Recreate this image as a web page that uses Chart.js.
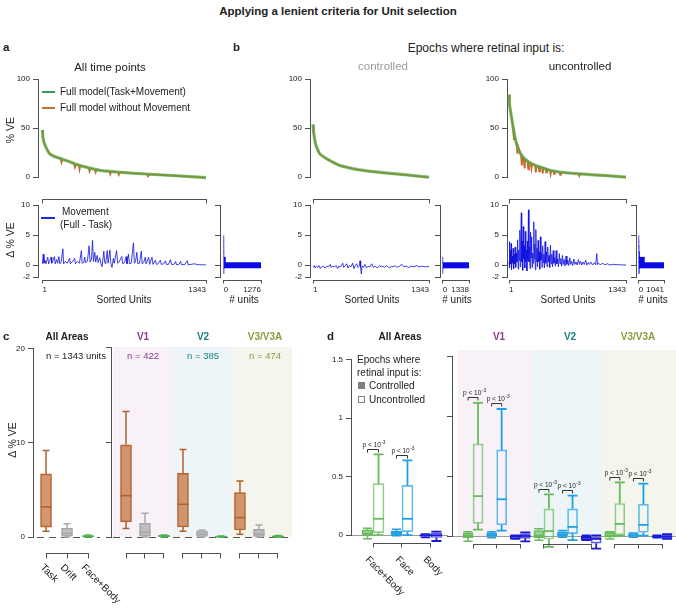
<!DOCTYPE html>
<html><head><meta charset="utf-8"><title>Applying a lenient criteria for Unit selection</title>
<script src="https://cdn.jsdelivr.net/npm/chart.js@4.4.1/dist/chart.umd.min.js"></script>
<style>
html,body{margin:0;padding:0;background:#fff;}
#fig{position:relative;width:676px;height:608px;overflow:hidden;font-family:'Liberation Sans',Arial,Helvetica,sans-serif;color:#222;}
#fig canvas{position:absolute;}
.t{position:absolute;white-space:nowrap;line-height:1;}
.ln{position:absolute;box-sizing:border-box;}
</style></head><body><div id="fig"></div>
<script>
// ================= DATA =================
// Panel a/b top: sorted % VE (x = sorted unit index)
const unitsA = [1,5,15,32,59,100,150,197,260,335,473,620,747,1026,1343];
const fullA  = [48,41,35,30,24,21,19,17,14,11,7,5.2,4,2,-0.5];
const unitsNoMoveA = [1,5,15,32,59,100,150,158,166,197,260,268,276,300,306,312,335,380,388,396,430,438,446,473,550,558,566,620,628,636,747,860,868,876,1026,1343];
const noMoveA      = [48,41,35,30,24,21,19,15,18,17,14,10,13,12.5,8,12,11,9.7,6,9.2,8.2,5,7.8,7,6,3,5.8,5.2,2.5,5,4,3.1,1,3,2,-0.5];

const unitsC  = [1,9,33,79,157,313,508,703,898,1093,1343];
const fullC   = [54,45,33,24,19,12,8,5.6,3.9,2.3,0];
const noMoveC = [53,44,32.5,23.5,18.6,11.8,7.8,5.4,3.7,2.1,-0.2];

const unitsU = [1,10,32,70,127,203,280,356,450,548,640,739,900,1121,1343];
const fullU  = [84,72,60,40,25,17,13,10.5,7.5,5.6,4.6,3.9,2.8,1.6,0];
const unitsNoMoveU = [1,10,32,50,58,64,70,90,98,105,127,140,148,155,170,180,187,203,215,222,230,250,258,265,280,300,308,316,340,348,356,380,388,396,420,428,436,450,470,478,486,510,518,526,548,580,588,596,640,700,739,800,808,816,900,1000,1121,1343];
const noMoveU      = [84,72,60,48,38,44,40,32,24,31,25,22,12,21,19,9,18,17,16,8,15.5,14,9,13.5,13,12,5,11.5,10.8,6,10.5,9.8,4,9.5,8.5,5,8.2,7.5,7,3,6.8,6.3,3.5,6,5.6,5.2,2.5,5.1,4.6,4.1,3.9,3.4,1.5,3.4,2.8,2.2,1.6,0];

// Panel a/b bottom: Movement (Full - Task), [unit, delta % VE]
const diffA = [[1,0.2],[8,1.8],[14,0.3],[22,0.8],[30,0.2],[45,1.3],[52,0.2],[60,0.6],[72,1.3],[78,0.3],[88,0.7],[100,1.4],[106,0.2],[118,0.9],[126,0.3],[136,1.4],[144,0.2],[155,0.5],[169,2.7],[175,0.2],[190,0.6],[205,0.3],[224,1.1],[230,0.2],[245,0.5],[266,1.1],[272,0.2],[290,0.6],[305,0.3],[321,2.4],[327,0.3],[340,0.4],[348,1.3],[356,0.4],[370,0.6],[384,3.2],[392,0.5],[404,1.0],[412,4.1],[420,0.6],[431,2.1],[438,0.5],[450,1.6],[458,0.4],[472,1.2],[480,0.3],[490,-0.3],[505,2.3],[512,0.4],[520,0.2],[533,2.4],[540,0.3],[555,2.5],[562,0.3],[572,-0.4],[583,1.1],[590,0.3],[610,2.4],[618,0.3],[630,0.5],[652,1.4],[660,0.2],[675,0.4],[688,1.4],[695,0.2],[707,1.8],[715,0.2],[730,0.3],[748,3.7],[755,0.3],[765,0.6],[776,2.1],[784,0.2],[798,0.3],[812,2.3],[820,0.2],[832,0.4],[845,1.3],[852,0.2],[873,1.3],[880,0.1],[900,1.3],[908,0.1],[928,0.8],[935,0.1],[950,0.2],[969,0.8],[976,0.1],[995,0.2],[1011,0.7],[1018,0.1],[1035,0.1],[1052,0.9],[1060,0.1],[1080,0.1],[1094,0.6],[1100,0.05],[1120,0.1],[1135,0.6],[1142,0.05],[1170,0.1],[1190,0.7],[1196,0.05],[1220,0.1],[1245,0.2],[1280,0.05],[1343,0.02]];
const diffC = [[1,-0.3],[15,-0.1],[25,-0.5],[40,-0.2],[55,-0.4],[70,-0.1],[85,-0.6],[100,-0.3],[120,-0.2],[140,-0.5],[160,-0.2],[180,-0.3],[200,0.1],[210,-0.4],[230,-0.2],[250,-0.3],[270,-0.1],[285,-0.6],[300,-0.2],[320,-0.3],[345,0.3],[355,-0.4],[370,-0.2],[390,0.2],[405,-0.5],[420,-0.1],[440,-0.3],[460,0.3],[475,-0.6],[490,-0.1],[505,0.2],[520,-0.4],[535,-0.2],[545,0.7],[552,-0.4],[560,-1.5],[568,-0.2],[585,-0.4],[600,0.1],[620,-0.5],[640,-0.2],[660,-0.3],[680,0.2],[700,-0.4],[720,-0.2],[745,-0.5],[770,-0.1],[790,-0.3],[810,-0.2],[830,-0.4],[850,-0.1],[870,-0.3],[890,-0.5],[910,-0.2],[930,-0.3],[950,-0.1],[975,-0.4],[1000,-0.2],[1030,0.1],[1050,-0.3],[1080,-0.2],[1110,-0.4],[1140,-0.2],[1170,-0.3],[1200,-0.1],[1230,-0.3],[1260,-0.2],[1300,-0.3],[1343,-0.25]];
const diffU = [[1,0.5],[5,3.9],[10,-0.5],[15,2.5],[20,0.2],[25,3.6],[30,-0.8],[36,1.5],[42,0.3],[48,2.8],[54,-0.6],[60,1.8],[66,0.2],[72,3.0],[78,-0.4],[85,2.0],[92,0.5],[100,4.2],[106,-0.7],[112,2.5],[118,0.8],[125,5.8],[130,-0.3],[136,3.5],[142,8.7],[147,0.5],[153,4.0],[158,-0.9],[164,6.4],[170,1.0],[176,3.2],[182,-0.5],[188,5.6],[194,0.6],[200,2.5],[206,-1.0],[212,4.0],[218,0.8],[224,9.2],[230,0.5],[236,3.0],[242,-0.6],[248,5.5],[254,1.2],[260,4.7],[266,-0.4],[272,2.0],[278,0.3],[285,7.2],[291,1.0],[297,3.5],[303,-0.8],[309,5.9],[315,0.6],[322,2.8],[328,-0.3],[335,4.1],[341,0.5],[348,2.2],[354,-0.7],[361,4.7],[367,0.8],[374,2.0],[380,-0.4],[387,3.2],[394,0.4],[401,1.8],[408,-0.5],[415,3.9],[422,0.3],[430,2.2],[437,-0.3],[445,3.0],[452,0.5],[460,1.6],[468,-0.4],[476,3.3],[484,0.2],[492,1.8],[500,-0.3],[508,2.4],[516,0.3],[525,1.2],[533,-0.2],[542,2.4],[550,0.2],[560,1.0],[568,-0.3],[578,1.9],[586,0.2],[596,1.1],[605,-0.2],[615,1.6],[624,0.1],[634,0.9],[644,-0.2],[655,1.5],[665,0.1],[676,0.8],[686,-0.1],[698,1.2],[708,0.1],[720,0.6],[732,-0.1],[745,1.0],[757,0.1],[770,0.5],[783,0.0],[797,0.9],[810,0.1],[823,0.6],[836,0.0],[850,0.5],[865,0.1],[880,0.8],[895,0.0],[910,0.4],[925,0.1],[940,0.5],[960,0.0],[980,0.4],[995,0.05],[1008,1.9],[1016,0.05],[1030,0.3],[1050,0.0],[1070,0.3],[1100,0.05],[1130,0.2],[1160,0.0],[1200,0.1],[1250,0.05],[1300,0.02],[1343,0.0]];

// Histograms of delta % VE (bin centres, counts)
const histBins = [-0.95,-0.05,0.85,1.75,2.65,3.55,4.45,5.35,6.25,7.15,8.05];
const histA = [5,1276,55,4,2,1,1,0,0,0,0];
const histC = [3,1338,2,0,0,0,0,0,0,0,0];
const histU = [20,1041,230,30,12,6,3,0,0,0,0];
const histMaxA = 1276, histMaxC = 1338, histMaxU = 1041;

// Panel c: box stats [min, q1, median, q3, max] for Task, Drift, Face+Body
const catsC = ['Task','Drift','Face+Body'];
const cAll = [[0.6,1.05,3.2,6.7,9.2],[0,0.1,0.4,0.95,1.4],[0,0.02,0.06,0.15,0.2]];
const cV1  = [[0.9,1.6,4.35,9.7,13.2],[0,0.1,0.5,1.45,2.5],[0,0.03,0.08,0.18,0.22]];
const cV2  = [[0.6,1.05,3.44,6.7,9.2],[0,0.05,0.3,0.65,0.75],[0,0.01,0.04,0.08,0.1]];
const cV3  = [[0.3,0.74,2.04,4.67,5.9],[0,0.05,0.3,0.8,1.26],[0,0.02,0.05,0.12,0.15]];
const areaNames = ['V1','V2','V3/V3A'];
const areaN = [422,385,474];
const totalN = 1343;

// Panel d: box stats [min, q1, median, q3, max] for Face+Body, Face, Body
const catsD = ['Face+Body','Face','Body'];
const dAllCtrl = [[-0.03,0,0.015,0.045,0.06],[-0.005,0.005,0.02,0.035,0.05],[-0.02,-0.01,0,0.005,0.01]];
const dAllUnc  = [[0,0.022,0.14,0.44,0.69],[0,0.03,0.14,0.425,0.64],[-0.05,-0.02,0,0.02,0.03]];
const dV1Ctrl  = [[-0.04,-0.01,0.01,0.03,0.04],[-0.01,0,0.01,0.03,0.04],[-0.02,-0.02,0,0.01,0.01]];
const dV1Unc   = [[0.058,0.11,0.336,0.77,1.11],[0.05,0.097,0.31,0.72,1.06],[-0.04,-0.015,0.005,0.025,0.035]];
const dV2Ctrl  = [[-0.03,-0.01,0.01,0.05,0.064],[-0.005,0.005,0.02,0.04,0.05],[-0.03,-0.03,-0.01,0.005,0.01]];
const dV2Unc   = [[-0.086,-0.02,0.045,0.23,0.35],[-0.03,0.025,0.08,0.23,0.34],[-0.1,-0.055,-0.02,0,0.01]];
const dV3Ctrl  = [[-0.02,-0.005,0.01,0.035,0.04],[-0.005,0,0.01,0.025,0.03],[-0.01,-0.005,0,0.005,0.01]];
const dV3Unc   = [[0.005,0.014,0.105,0.275,0.45],[0.008,0.036,0.097,0.27,0.44],[-0.02,-0.015,0,0.015,0.02]];
const dSig = [true,true,false]; // p < 10^-3 for Face+Body and Face
const pText = ['p < 10','-3'];

// ================= STYLE / HELPERS =================
const fig = document.getElementById('fig');
const AX = '#505050';
const GREENL = 'rgba(86,170,72,0.72)', ORANGE = '#c8682a', BLUE = 'rgba(18,18,225,0.9)', HBLUE = '#0a0ae6';
const cFill = ['rgba(196,112,58,0.72)','rgba(170,170,170,0.72)','rgba(90,190,90,0.9)'];
const cLine = ['#b2602c','#a8a8a8','#4fb04f'];
const dCol = ['#66bb5a','#1ea0e6','#1a1ad6'];
const areaCol = ['#8b3b8f','#1d7f80','#8d9b3d'];
const bandCol = ['#f8f1f8','#eef5f8','#f4f5ed'];
function rgba(hex,a){const n=parseInt(hex.slice(1),16);return `rgba(${n>>16},${(n>>8)&255},${n&255},${a})`;}
const FONT = "'Liberation Sans', Arial, Helvetica, sans-serif";
Chart.defaults.font.family = FONT;
Chart.defaults.font.size = 8;
Chart.defaults.color = '#222';

function T(s,x,y,o={}){
  const d=document.createElement('div'); d.className='t'; d.textContent=s;
  const al=o.al||'c'; const tx=al==='l'?'0%':al==='r'?'-100%':'-50%';
  d.style.left=x+'px'; d.style.top=y+'px'; d.style.fontSize=(o.fs||10)+'px';
  if(o.b) d.style.fontWeight='bold'; if(o.c) d.style.color=o.c;
  let tr=`translate(${tx},-50%)`;
  if(o.rot){ tr+=` rotate(${o.rot}deg)`; d.style.transformOrigin = al==='l'?'0 50%':'50% 50%'; }
  d.style.transform=tr; fig.appendChild(d);
}
function R(x,y,w,h,bg,border){
  const d=document.createElement('div'); d.className='ln';
  Object.assign(d.style,{left:x+'px',top:y+'px',width:w+'px',height:h+'px',background:bg||'transparent'});
  if(border) d.style.border=border; fig.appendChild(d);
}
function mk(area,pad,config){
  const c=document.createElement('canvas');
  const w=Math.round(area.r-area.l+pad.l+pad.r), h=Math.round(area.b-area.t+pad.t+pad.b);
  c.width=w; c.height=h;
  Object.assign(c.style,{left:(area.l-pad.l)+'px',top:(area.t-pad.t)+'px',width:w+'px',height:h+'px'});
  fig.appendChild(c);
  const o=config.options, xs=o.scales.x, ys=o.scales.y;
  const yShown=ys.display!==false, xShown=xs.display!==false;
  if(yShown) ys.afterFit=s=>{s.width=pad.l;};
  if(xShown) xs.afterFit=s=>{s.height=pad.b;};
  o.layout={padding:{top:pad.t,right:pad.r,left:yShown?0:pad.l,bottom:xShown?0:pad.b}};
  o.responsive=false; o.animation=false; o.devicePixelRatio=1; o.events=[];
  o.plugins={legend:{display:false},tooltip:{enabled:false}};
  return new Chart(c,config);
}
function yScale(min,max,vals,labels=true){
  return {type:'linear',min,max,bounds:'data',position:'left',offset:false,
    afterBuildTicks:s=>{s.ticks=vals.map(v=>({value:v}));},
    ticks:{display:labels,padding:3,autoSkip:false,callback:v=>String(v),color:'#222',font:{size:8}},
    grid:{display:true,offset:false,drawOnChartArea:false,drawTicks:true,tickLength:5,color:AX,lineWidth:1},
    border:{display:false}};
}
function xScale(min,max,vals){
  if(!vals) return {type:'linear',min,max,bounds:'data',display:false,offset:false,grid:{offset:false}};
  return {type:'linear',min,max,bounds:'data',position:'bottom',offset:false,
    afterBuildTicks:s=>{s.ticks=vals.map(v=>({value:v}));},
    ticks:{padding:8,align:'inner',maxRotation:0,minRotation:0,autoSkip:false,callback:v=>String(v),color:'#222',font:{size:8}},
    grid:{display:false,drawTicks:false,offset:false},border:{display:false}};
}
const al=p=>Math.round(p-0.5)+0.5;
function yAx(c,from,to){
  const ctx=c.ctx,s=c.scales.y,x=Math.round(c.chartArea.left)+0.5;
  ctx.save();ctx.strokeStyle=AX;ctx.lineWidth=1;ctx.setLineDash([]);
  ctx.beginPath();ctx.moveTo(x,al(s.getPixelForValue(to))-0.5);ctx.lineTo(x,al(s.getPixelForValue(from))+0.5);ctx.stroke();ctx.restore();
}
function xBr(c,from,to,yPix,ticks,len){
  const ctx=c.ctx,s=c.scales.x,y=al(yPix);
  ctx.save();ctx.strokeStyle=AX;ctx.lineWidth=1;ctx.setLineDash([]);
  ctx.beginPath();
  ctx.moveTo(al(s.getPixelForValue(from))-0.5,y);ctx.lineTo(al(s.getPixelForValue(to))+0.5,y);
  ticks.forEach(v=>{const x=al(s.getPixelForValue(v));ctx.moveTo(x,y);ctx.lineTo(x,y+len);});
  ctx.stroke();ctx.restore();
}
function bands(c,ranges,cols){
  const ctx=c.ctx,sx=c.scales.x,sy=c.scales.y;
  ranges.forEach((r,i)=>{const x1=sx.getPixelForValue(r[0]),x2=sx.getPixelForValue(r[1]);
    ctx.fillStyle=cols[i];ctx.fillRect(x1,c.chartArea.top,x2-x1,sy.getPixelForValue(0)-c.chartArea.top);});
}
function zeroLine(c,dash,col,x0off){
  const ctx=c.ctx,y=al(c.scales.y.getPixelForValue(0));
  ctx.save();ctx.strokeStyle=col;ctx.lineWidth=1;ctx.setLineDash(dash);
  ctx.beginPath();ctx.moveTo(c.chartArea.left+(x0off||0),y);ctx.lineTo(c.chartArea.right,y);ctx.stroke();ctx.restore();
}
function drawBoxes(c,di,stats,cols,capW,lw,medLw){
  const meta=c.getDatasetMeta(di),sy=c.scales.y,ctx=c.ctx;
  ctx.save();ctx.setLineDash([]);ctx.lineCap='butt';
  meta.data.forEach((el,j)=>{
    const [mn,q1,md,q3,mx]=stats[j];const x=el.x,w=el.width;
    const P=v=>sy.getPixelForValue(v);
    ctx.strokeStyle=cols[j];ctx.lineWidth=lw;
    ctx.beginPath();
    ctx.moveTo(x,P(q3));ctx.lineTo(x,P(mx));ctx.moveTo(x,P(q1));ctx.lineTo(x,P(mn));
    ctx.moveTo(x-capW/2,P(mx));ctx.lineTo(x+capW/2,P(mx));
    ctx.moveTo(x-capW/2,P(mn));ctx.lineTo(x+capW/2,P(mn));
    ctx.stroke();
    ctx.lineWidth=medLw;ctx.beginPath();ctx.moveTo(x-w/2,P(md));ctx.lineTo(x+w/2,P(md));ctx.stroke();
  });
  ctx.restore();
}
function drawP(c,ctrl,unc,sig){
  const m0=c.getDatasetMeta(0),m1=c.getDatasetMeta(1),sy=c.scales.y,ctx=c.ctx;
  ctx.save();ctx.setLineDash([]);ctx.strokeStyle='#333';ctx.fillStyle='#222';ctx.lineWidth=1;
  m0.data.forEach((e0,j)=>{
    if(!sig[j%sig.length]) return;
    const e1=m1.data[j];
    const yb=al(Math.min(sy.getPixelForValue(ctrl[j][4]),sy.getPixelForValue(unc[j][4]))-5);
    ctx.beginPath();ctx.moveTo(e0.x,yb+3);ctx.lineTo(e0.x,yb);ctx.lineTo(e1.x,yb);ctx.lineTo(e1.x,yb+3);ctx.stroke();
    ctx.font=`6.5px ${FONT}`;ctx.textBaseline='alphabetic';ctx.textAlign='left';
    const tx=e0.x-5;ctx.fillText(pText[0],tx,yb-3);
    const w=ctx.measureText(pText[0]).width;
    ctx.font=`4.8px ${FONT}`;ctx.fillText(pText[1],tx+w+0.5,yb-6);
  });
  ctx.restore();
}
const pts=(xs,ys)=>xs.map((u,i)=>({x:u,y:ys[i]}));
const pairPts=arr=>arr.map(p=>({x:p[0],y:p[1]}));

// ================= PANEL a / b : TOP CURVES =================
function topChart(area,xmin,units,full,unitsNM,nm){
  return mk(area,{l:32,t:8,r:4,b:4},{
    type:'line',
    data:{datasets:[
      {label:'Full model(Task+Movement)',data:pts(units,full),borderColor:GREENL,borderWidth:3.2,pointRadius:0,tension:0.2,clip:6},
      {label:'Full model without Movement',data:pts(unitsNM,nm),borderColor:ORANGE,borderWidth:1.8,pointRadius:0,tension:0,clip:6}]},
    options:{scales:{x:xScale(xmin,1343,null),y:yScale(0,100,[0,50,100])}},
    plugins:[{id:'deco',beforeDatasetsDraw:c=>yAx(c,0,100)}]
  });
}
topChart({l:38,t:79,r:206,b:181},-35,unitsA,fullA,unitsNoMoveA,noMoveA);
topChart({l:310,t:79,r:429,b:181},-34,unitsC,fullC,unitsC,noMoveC);
topChart({l:507,t:79,r:626,b:181},-22,unitsU,fullU,unitsNoMoveU,noMoveU);

// ================= PANEL a / b : BOTTOM DIFF =================
function diffChart(area,xmin,diff){
  return mk(area,{l:32,t:10,r:8,b:26},{
    type:'line',
    data:{datasets:[{label:'Movement (Full - Task)',data:pairPts(diff),borderColor:BLUE,borderWidth:0.9,pointRadius:0,tension:0,clip:3}]},
    options:{scales:{x:xScale(xmin,1343,[1,1343]),y:yScale(-2,10,[-2,0,5,10])}},
    plugins:[{id:'deco',beforeDatasetsDraw:c=>{
      yAx(c,-2,10);
      xBr(c,1,1343,c.chartArea.bottom+3,[1,1343],3);
      xBr(c,1,1343,c.chartArea.top-6,[1,1343],4);
    }}]
  });
}
diffChart({l:38,t:205,r:206,b:277},-35,diffA);
diffChart({l:310,t:205,r:429,b:277},-34,diffC);
diffChart({l:507,t:205,r:626,b:277},-22,diffU);

function histChart(area,xmin,counts,maxC){
  return mk(area,{l:8,t:10,r:6,b:26},{
    type:'bar',
    data:{datasets:[{label:'# units',data:histBins.map((b,i)=>({y:b,x:counts[i]})).filter(d=>d.x>0),backgroundColor:HBLUE,borderWidth:0,barPercentage:1,categoryPercentage:1}]},
    options:{indexAxis:'y',scales:{x:xScale(xmin,maxC,[0,maxC]),y:yScale(-2,10,[-2,0,5,10],false)}},
    plugins:[{id:'deco',beforeDatasetsDraw:c=>{
      yAx(c,-2,10);
      xBr(c,0,maxC,c.chartArea.bottom+3,[0,maxC],3);
    }}]
  });
}
histChart({l:220,t:205,r:263,b:277},-131,histA,histMaxA);
histChart({l:440,t:205,r:471,b:277},-143,histC,histMaxC);
histChart({l:636,t:205,r:666,b:277},-116,histU,histMaxU);

// ================= PANEL c =================
function boxDataset(stats,fill,line,thick){
  return {data:stats.map((s,i)=>({x:i,y:[s[1],s[3]]})),backgroundColor:fill,borderColor:line,borderWidth:1,borderSkipped:false,barThickness:thick};
}
mk({l:33,t:347,r:100,b:537},{l:33,t:6,r:2,b:26},{
  type:'bar',
  data:{labels:catsC,datasets:[boxDataset(cAll,cFill,cLine,11)]},
  options:{scales:{x:xScale(-0.62,2.57,null),y:yScale(0,20,[0,10,20])}},
  plugins:[{id:'deco',
    beforeDatasetsDraw:c=>{yAx(c,0,20);zeroLine(c,[7,5],'#555',4);},
    afterDatasetsDraw:c=>{drawBoxes(c,0,cAll,cLine,7,1.5,1.5);xBr(c,0,2,c.scales.y.getPixelForValue(0)+16,[0,1,2],5);}}]
});
const cRightStats=[...cV1,...cV2,...cV3];
const rep3=a=>[...a,...a,...a];
mk({l:111,t:347,r:292,b:537},{l:8,t:6,r:2,b:26},{
  type:'bar',
  data:{datasets:[boxDataset(cRightStats,rep3(cFill),rep3(cLine),11)]},
  options:{scales:{x:xScale(-0.79,8.74,null),y:yScale(0,20,[0,10,20],false)}},
  plugins:[{id:'deco',
    beforeDatasetsDraw:c=>{bands(c,[[-0.68,2.46],[2.46,5.53],[5.53,8.74]],bandCol);yAx(c,0,20);zeroLine(c,[7,5],'#555',2);},
    afterDatasetsDraw:c=>{drawBoxes(c,0,cRightStats,rep3(cLine),7,1.5,1.5);
      const y=c.scales.y.getPixelForValue(0)+16;
      [[0,1,2],[3,4,5],[6,7,8]].forEach(g=>xBr(c,g[0],g[2],y,g,5));}}]
});

// ================= PANEL d =================
function dSets(ctrl,unc,cols,thick){
  return [
    {label:'Controlled',data:ctrl.map((s,i)=>({x:i,y:[s[1],s[3]]})),backgroundColor:cols.map(c=>rgba(c,0.6)),borderColor:cols,borderWidth:1,borderSkipped:false,barThickness:thick},
    {label:'Uncontrolled',data:unc.map((s,i)=>({x:i,y:[s[1],s[3]]})),backgroundColor:'rgba(255,255,255,0)',borderColor:cols.map(c=>rgba(c,0.7)),borderWidth:1,borderSkipped:false,barThickness:thick}
  ];
}
mk({l:351,t:350,r:448,b:551},{l:25,t:4,r:2,b:6},{
  type:'bar',
  data:{datasets:dSets(dAllCtrl,dAllUnc,dCol,11)},
  options:{scales:{x:xScale(-0.76,2.59,null),y:yScale(-0.12,1.55,[0,0.5,1,1.5])}},
  plugins:[{id:'deco',
    beforeDatasetsDraw:c=>{zeroLine(c,[],'#9a9a9a',0);yAx(c,0,1.5);},
    afterDatasetsDraw:c=>{drawBoxes(c,0,dAllCtrl,dCol,9,1.5,1.5);drawBoxes(c,1,dAllUnc,dCol,10,1.8,1.8);
      drawP(c,dAllCtrl,dAllUnc,dSig);
      xBr(c,0,2,c.scales.y.getPixelForValue(0)+8,[0,1,2],4);}}]
});
const dRCtrl=[...dV1Ctrl,...dV2Ctrl,...dV3Ctrl], dRUnc=[...dV1Unc,...dV2Unc,...dV3Unc], dRCol=rep3(dCol);
mk({l:452,t:350,r:676,b:551},{l:8,t:4,r:0,b:6},{
  type:'bar',
  data:{datasets:dSets(dRCtrl,dRUnc,dRCol,10)},
  options:{scales:{x:xScale(-0.89,8.59,null),y:yScale(-0.12,1.55,[0,0.5,1,1.5],false)}},
  plugins:[{id:'deco',
    beforeDatasetsDraw:c=>{bands(c,[[-0.64,2.5],[2.5,5.5],[5.5,8.59]],bandCol);zeroLine(c,[],'#9a9a9a',0);yAx(c,0,1.5);},
    afterDatasetsDraw:c=>{drawBoxes(c,0,dRCtrl,dRCol,9,1.5,1.5);drawBoxes(c,1,dRUnc,dRCol,10,1.8,1.8);
      drawP(c,dRCtrl,dRUnc,dSig);
      const y=c.scales.y.getPixelForValue(0)+8;
      [[0,1,2],[3,4,5],[6,7,8]].forEach(g=>xBr(c,g[0],g[2],y,g,4));}}]
});

// ================= TEXT =================
T('Applying a lenient criteria for Unit selection',338,12,{fs:11.5,b:true});
T('a',3,48,{al:'l',fs:11.5,b:true});
T('b',233,48,{al:'l',fs:11.5,b:true});
T('c',3,337,{al:'l',fs:11.5,b:true});
T('d',327,337,{al:'l',fs:11.5,b:true});
T('Epochs where retinal input is:',486,48,{fs:12});
T('All time points',110,68,{fs:11.5});
T('controlled',383,67,{fs:11.5,c:'#9a9a9a'});
T('uncontrolled',580,67,{fs:11.5});
// legends panel a
R(42,91,13,2,'#2e9e5a'); T('Full model(Task+Movement)',60,92,{al:'l',fs:10});
R(42,107,13,2,'#c0703c'); T('Full model without Movement',60,108,{al:'l',fs:10});
R(41,217,14,1.6,'#2a2ac8'); T('Movement',62,212,{al:'l',fs:10}); T('(Full - Task)',60,225,{al:'l',fs:10});
T('% VE',10,130,{fs:10.5,rot:-90});
T('\u0394 % VE',10,240,{fs:10.5,rot:-90});
[[124,244],[372,457],[568,653]].forEach(p=>{T('Sorted Units',p[0],300,{fs:10});T('# units',p[1],300,{fs:10});});
// panel c
T('All Areas',67,337,{fs:10,b:true});
T(`n = ${totalN} units`,46,356,{al:'l',fs:9.5});
[143,203,265].forEach((x,i)=>{T(areaNames[i],x,337,{fs:10,b:true,c:areaCol[i]});T(`n = ${areaN[i]}`,x,356,{fs:9.5,c:areaCol[i]});});
T('\u0394 % VE',12,440,{fs:10.5,rot:-90});
[42,62,83].forEach((x,i)=>T(catsC[i],x,566,{al:'l',fs:10,rot:45}));
// panel d
T('All Areas',400,337,{fs:10,b:true});
[499,570,638].forEach((x,i)=>T(areaNames[i],x,337,{fs:10,b:true,c:areaCol[i]}));
T('Epochs where',357,360,{al:'l',fs:10});
T('retinal input is:',357,373,{al:'l',fs:10});
R(358,382,7,7,'#808080'); T('Controlled',369,386,{al:'l',fs:10});
R(358,396,7,7,'#fff','1px solid #808080'); T('Uncontrolled',369,400,{al:'l',fs:10});
[367,397,425].forEach((x,i)=>T(catsD[i],x,558,{al:'l',fs:10,rot:45}));
</script></body></html>
